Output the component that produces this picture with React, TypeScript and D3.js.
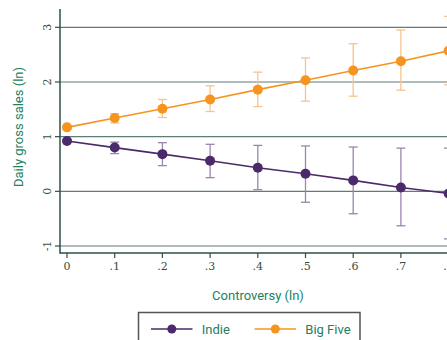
import React from "react";
import * as d3 from "d3";

const xs = [0, 0.1, 0.2, 0.3, 0.4, 0.5, 0.6, 0.7, 0.8];
const xTickLabels = ["0", ".1", ".2", ".3", ".4", ".5", ".6", ".7", ".8"];
const yTicks = [-1, 0, 1, 2, 3];
const yTickLabels = ["-1", "0", "1", "2", "3"];

const indieMean = [0.92, 0.8, 0.68, 0.56, 0.43, 0.32, 0.2, 0.07, -0.04];
const indieLo = [0.9, 0.69, 0.47, 0.25, 0.03, -0.2, -0.41, -0.63, -0.87];
const indieHi = [0.95, 0.9, 0.89, 0.86, 0.84, 0.83, 0.81, 0.79, 0.79];

const bigMean = [1.17, 1.34, 1.51, 1.68, 1.86, 2.03, 2.21, 2.38, 2.57];
const bigLo = [1.14, 1.25, 1.35, 1.46, 1.55, 1.65, 1.74, 1.85, 1.95];
const bigHi = [1.2, 1.42, 1.68, 1.93, 2.18, 2.44, 2.7, 2.95, 3.2];

const W = 447;
const H = 340;
const green = "#23805f";
const tickCol = "#2f4f4a";
const gridCol = "#5f7d78";

const series = [
  { name: "Indie", mean: indieMean, lo: indieLo, hi: indieHi, color: "#4b2a6b", bar: "#9985b0" },
  { name: "Big Five", mean: bigMean, lo: bigLo, hi: bigHi, color: "#f7941d", bar: "#f9c38a" },
];

export default function App() {
  const x = d3.scaleLinear().domain([0, 0.8]).range([67, 448.6]);
  const y = d3.scaleLinear().domain([-1, 3]).range([246, 27.3]);
  const line = d3
    .line<number>()
    .x((_, i) => x(xs[i]))
    .y((d) => y(d));
  const axisX = 60;
  const axisY = 253;

  return (
    <div style={{ position: "absolute", left: 0, top: 0 }}>
      <svg width={W} height={H} style={{ display: "block", background: "#fff" }}>
        {/* grid */}
        {yTicks.map((t) => (
          <line key={"g" + t} x1={axisX} x2={W} y1={y(t)} y2={y(t)} stroke={gridCol} strokeWidth={1.2} />
        ))}
        {/* axes */}
        <line x1={axisX} x2={axisX} y1={9} y2={axisY + 0.7} stroke={tickCol} strokeWidth={1.5} />
        <line x1={axisX} x2={W} y1={axisY} y2={axisY} stroke={tickCol} strokeWidth={1.5} />
        {yTicks.map((t, i) => (
          <g key={"yt" + t}>
            <line x1={axisX - 5} x2={axisX} y1={y(t)} y2={y(t)} stroke={tickCol} strokeWidth={1.2} />
            <text
              transform={`translate(${axisX - 9},${y(t)}) rotate(-90)`}
              textAnchor="middle"
              fontFamily="DejaVu Serif"
              fontSize={11}
              fill={tickCol}
            >
              {yTickLabels[i]}
            </text>
          </g>
        ))}
        {xs.map((v, i) => (
          <g key={"xt" + i}>
            <line x1={x(v)} x2={x(v)} y1={axisY} y2={axisY + 5} stroke={tickCol} strokeWidth={1.2} />
            <text x={x(v)} y={axisY + 17} textAnchor="middle" fontFamily="DejaVu Serif" fontSize={11} fill={tickCol}>
              {xTickLabels[i]}
            </text>
          </g>
        ))}
        {/* titles */}
        <text x={258} y={300} textAnchor="middle" fontFamily="Roboto" fontSize={13} fill={green}>
          Controversy (ln)
        </text>
        <text
          transform={`translate(23,127) rotate(-90)`}
          textAnchor="middle"
          fontFamily="Roboto"
          fontSize={13}
          fill={green}
        >
          Daily gross sales (ln)
        </text>
        {/* series */}
        {series.map((s) => (
          <g key={s.name}>
            {xs.map((v, i) => (
              <g key={i} stroke={s.bar} strokeWidth={1.3} fill="none">
                <line x1={x(v)} x2={x(v)} y1={y(s.lo[i])} y2={y(s.hi[i])} />
                <line x1={x(v) - 4.5} x2={x(v) + 4.5} y1={y(s.lo[i])} y2={y(s.lo[i])} />
                <line x1={x(v) - 4.5} x2={x(v) + 4.5} y1={y(s.hi[i])} y2={y(s.hi[i])} />
              </g>
            ))}
            <path d={line(s.mean) || ""} fill="none" stroke={s.color} strokeWidth={1.6} />
            {xs.map((v, i) => (
              <circle key={"c" + i} cx={x(v)} cy={y(s.mean[i])} r={5} fill={s.color} />
            ))}
          </g>
        ))}
        {/* legend */}
        <rect x={138.5} y={312.5} width={221.5} height={40} fill="#fff" stroke="#555" strokeWidth={1.5} />
        {series.map((s, i) => {
          const lx = i === 0 ? 151 : 254.5;
          return (
            <g key={"lg" + s.name}>
              <line x1={lx} x2={lx + 41.5} y1={329} y2={329} stroke={s.color} strokeWidth={1.3} />
              <circle cx={lx + 20.8} cy={329} r={4.5} fill={s.color} />
              <text x={lx + 50.8} y={333.5} fontFamily="Roboto" fontSize={13} fill={green}>
                {s.name}
              </text>
            </g>
          );
        })}
      </svg>
    </div>
  );
}
